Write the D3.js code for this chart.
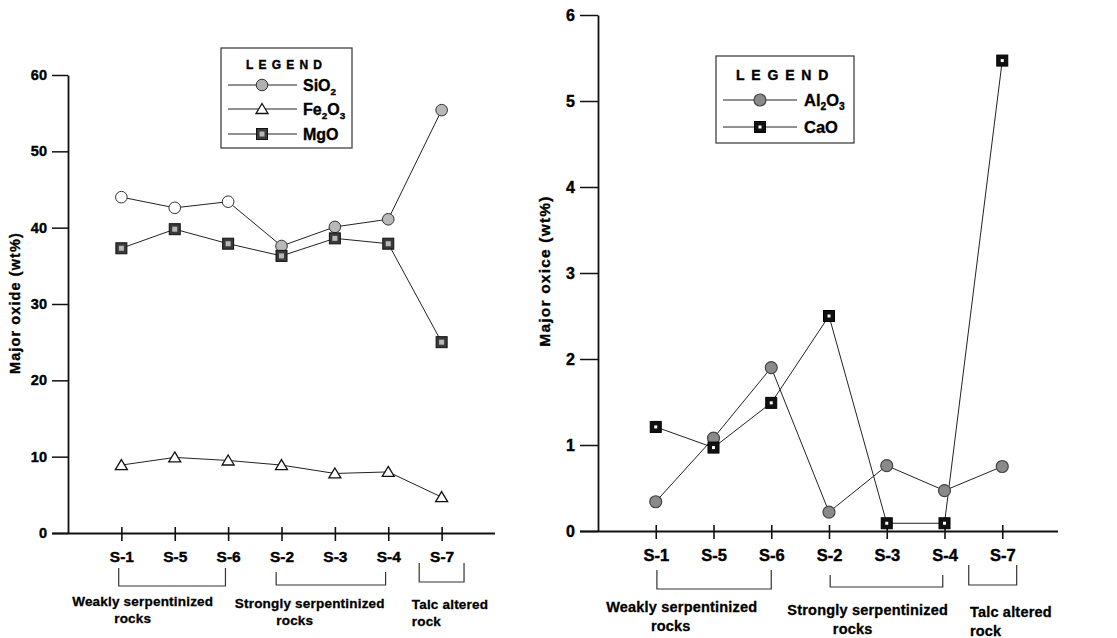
<!DOCTYPE html>
<html><head><meta charset="utf-8">
<script src="https://cdn.jsdelivr.net/npm/d3@7"></script>
<style>
body{margin:0;background:#fff;}
svg{display:block;font-family:Arial,"Liberation Sans",sans-serif;font-weight:bold;}
</style></head>
<body>
<svg id="c" width="1117" height="638"></svg>
<script>
const samples = ["S-1","S-5","S-6","S-2","S-3","S-4","S-7"];
const sio2  = [44.0, 42.6, 43.4, 37.6, 40.1, 41.1, 55.4];
const fe2o3 = [8.9, 9.9, 9.5, 8.9, 7.8, 8.0, 4.7];
const mgo   = [37.3, 39.8, 37.9, 36.3, 38.6, 37.9, 25.0];
const al2o3 = [0.34, 1.08, 1.90, 0.22, 0.76, 0.47, 0.75];
const cao   = [1.21, 0.97, 1.49, 2.50, 0.09, 0.09, 5.47];
const leftTicks  = [0,10,20,30,40,50,60];
const rightTicks = [0,1,2,3,4,5,6];
const groupNames = [["Weakly serpentinized","rocks"],["Strongly serpentinized","rocks"],["Talc altered","rock"]];
const groupSpans = [["S-1","S-6"],["S-2","S-4"],["S-7","S-7"]];
const leftTitle = "Major oxide (wt%)";
const rightTitle = "Major oxice (wt%)";

const svg = d3.select("#c");
const FONT = "Arial,'Liberation Sans',sans-serif";

function heavy(sel, w){
  sel.attr("fill","#000").attr("stroke","#000").attr("stroke-width",w||0.35);
}

function marker(g, type, x, y, fill){
  if(type==="circle"){
    g.append("circle").attr("cx",x).attr("cy",y).attr("r",5.8)
      .attr("fill",fill||"#b0b0b0").attr("stroke","#333").attr("stroke-width",1);
  } else if(type==="gcircle"){
    g.append("circle").attr("cx",x).attr("cy",y).attr("r",6)
      .attr("fill","#8a8a8a").attr("stroke","#444").attr("stroke-width",1.2);
  } else if(type==="tri"){
    g.append("path").attr("transform",`translate(${x},${y})`)
      .attr("d","M0,-5.5L6,4.5L-6,4.5Z").attr("fill","#fff").attr("stroke","#111").attr("stroke-width",1.3);
  } else if(type==="msq"){
    g.append("rect").attr("x",x-5.5).attr("y",y-5.5).attr("width",11).attr("height",11)
      .attr("fill","#3a3a3a").attr("stroke","#111").attr("stroke-width",1);
    g.append("rect").attr("x",x-2.5).attr("y",y-2.5).attr("width",5).attr("height",5)
      .attr("fill","#b8b8b8");
  } else if(type==="csq"){
    g.append("rect").attr("x",x-5.5).attr("y",y-5.5).attr("width",11).attr("height",11)
      .attr("fill","#111").attr("stroke","#000").attr("stroke-width",1);
    g.append("rect").attr("x",x-1.5).attr("y",y-1.5).attr("width",3).attr("height",3)
      .attr("fill","#fff");
  }
}

function chemLabel(t, parts){
  parts.forEach(p=>{
    if(p.sub) t.append("tspan").attr("font-size","0.62em").attr("dy",4).text(p.s);
    else t.append("tspan").attr("dy", p.after ? -4 : 0).text(p.s);
  });
}

function drawChart(cfg){
  const g = svg.append("g");
  const x = d3.scalePoint().domain(samples).range(cfg.xr).padding(1);
  const y = d3.scaleLinear().domain(cfg.yd).range(cfg.yr);
  const step = x.step();

  // y axis
  const ya = g.append("g").attr("transform",`translate(${cfg.xr[0]},0)`)
    .call(d3.axisLeft(y).tickValues(cfg.ticks).tickFormat(d3.format("d"))
      .tickSize(cfg.tickLen).tickSizeOuter(0).tickPadding(5));
  ya.select(".domain").attr("stroke","#111").attr("stroke-width",1.8);
  ya.selectAll(".tick line").attr("stroke","#111").attr("stroke-width",1.5);
  ya.selectAll(".tick text").attr("font-size",cfg.tickFont).attr("font-weight","bold")
    .attr("font-family",FONT).call(heavy, 0.4);

  // x axis
  const xa = g.append("g").attr("transform",`translate(0,${cfg.yr[0]})`)
    .call(d3.axisBottom(x).tickSize(8).tickSizeOuter(0).tickPadding(10));
  xa.select(".domain").attr("stroke","#111").attr("stroke-width",1.8)
    .attr("d",`M${cfg.xr[0]-cfg.tickLen},0.5H${cfg.xAxisEnd}`);
  xa.selectAll(".tick line").attr("y1",-6).attr("stroke","#111").attr("stroke-width",1.6);
  xa.selectAll(".tick text").attr("font-size",cfg.xFont).attr("font-weight","bold")
    .attr("font-family",FONT).call(heavy, 0.4);

  // y title
  g.append("text").attr("transform",`translate(${cfg.titleX},${cfg.titleY}) rotate(-90)`)
    .attr("text-anchor","middle").attr("dominant-baseline","middle")
    .attr("font-size",cfg.titleFont).attr("letter-spacing",cfg.titleLs)
    .call(heavy, 0.35)
    .text(cfg.title);

  // series
  cfg.series.forEach(s=>{
    const line = d3.line().x((d,i)=>x(samples[i])).y(d=>y(d));
    g.append("path").attr("d",line(s.values)).attr("fill","none")
      .attr("stroke","#222").attr("stroke-width",1);
  });
  cfg.series.forEach(s=>{
    s.values.forEach((v,i)=>marker(g, s.marker, x(samples[i]), y(v), s.fillFn ? s.fillFn(i) : null));
  });

  // group brackets & labels
  groupSpans.forEach((sp,k)=>{
    const b = cfg.brackets[k];
    const x1 = x(sp[0]) + b[0]*step, x2 = x(sp[1]) + b[1]*step;
    g.append("path").attr("d",`M${x1},${b[2]}V${b[3]}H${x2}V${b[2]}`)
      .attr("fill","none").attr("stroke","#333").attr("stroke-width",1.2);
    const L = cfg.labels[k];
    const lines = groupNames[k];
    lines.forEach((ln,j)=>{
      g.append("text").attr("x", x(L.ref) + L.dx*step + (j?L.dx2:0))
        .attr("y", L.y + j*cfg.lineGap)
        .attr("text-anchor", L.anchor).attr("font-size",cfg.groupFont)
        .attr("letter-spacing",0.2).call(heavy, 0.3)
        .text(ln);
    });
  });

  // legend
  const lg = cfg.legend;
  g.append("rect").attr("x",lg.x0).attr("y",lg.y0).attr("width",lg.x1-lg.x0).attr("height",lg.y1-lg.y0)
    .attr("fill","#fff").attr("stroke","#333").attr("stroke-width",1.2);
  g.append("text").attr("x",lg.titleX).attr("y",lg.titleY).attr("font-size",lg.titleFont)
    .attr("letter-spacing",lg.titleLs).call(heavy, 0.4).text("LEGEND");
  cfg.series.forEach((s,i)=>{
    const yy = lg.rows[i];
    g.append("line").attr("x1",lg.lx0).attr("x2",lg.lx1).attr("y1",yy).attr("y2",yy)
      .attr("stroke","#222").attr("stroke-width",1);
    marker(g, s.marker, lg.mx, yy, null);
    const t = g.append("text").attr("x",lg.tx).attr("y",yy+lg.font*0.36).attr("font-size",lg.font)
      .call(heavy, 0.35);
    chemLabel(t, s.label);
  });
}

drawChart({
  xr:[68,495], xAxisEnd:495, yd:[0,60], yr:[533,75], ticks:leftTicks, tickLen:16, tickFont:"14.5px", xFont:"15.5px",
  title:leftTitle, titleX:16, titleY:303, titleFont:"14.5px", titleLs:1.1,
  series:[
    {values:sio2, marker:"circle", fillFn:i=> i<3 ? "#fff" : "#b8b8b8",
      label:[{s:"SiO"},{s:"2",sub:true}]},
    {values:fe2o3, marker:"tri", label:[{s:"Fe"},{s:"2",sub:true},{s:"O",after:true},{s:"3",sub:true}]},
    {values:mgo, marker:"msq", label:[{s:"MgO"}]}
  ],
  brackets:[[-0.05,-0.05,568,586],[-0.1,-0.05,572,585],[-0.42,0.42,563,582]],
  labels:[{ref:"S-5",dx:-0.6,dx2:-10,y:606,anchor:"middle"},
          {ref:"S-3",dx:-0.47,dx2:-15,y:608,anchor:"middle"},
          {ref:"S-7",dx:-0.56,dx2:0,y:609,anchor:"start"}],
  groupFont:"13.5px", lineGap:17,
  legend:{x0:221,y0:48,x1:352,y1:148,titleX:246,titleY:69,titleFont:"12px",titleLs:5.2,
    rows:[85,109,134], lx0:228, lx1:297, mx:262, tx:303, font:16}
});

drawChart({
  xr:[598,1060], xAxisEnd:1058, yd:[0,6], yr:[531,15], ticks:rightTicks, tickLen:18, tickFont:"16px", xFont:"16.5px",
  title:rightTitle, titleX:546, titleY:271, titleFont:"15.5px", titleLs:1.2,
  series:[
    {values:al2o3, marker:"gcircle", label:[{s:"Al"},{s:"2",sub:true},{s:"O",after:true},{s:"3",sub:true}]},
    {values:cao, marker:"csq", label:[{s:"CaO"}]}
  ],
  brackets:[[0.02,0,570,589],[0.02,-0.03,575,587],[-0.58,0.25,565,585]],
  labels:[{ref:"S-5",dx:-0.55,dx2:-11,y:612,anchor:"middle"},
          {ref:"S-3",dx:-0.33,dx2:-15,y:615,anchor:"middle"},
          {ref:"S-7",dx:-0.56,dx2:0,y:617,anchor:"start"}],
  groupFont:"14.5px", lineGap:19,
  legend:{x0:716,y0:56,x1:854,y1:143,titleX:736,titleY:80,titleFont:"14px",titleLs:6.8,
    rows:[100,127], lx0:723, lx1:797, mx:760, tx:804, font:16.5}
});
</script>
</body></html>
